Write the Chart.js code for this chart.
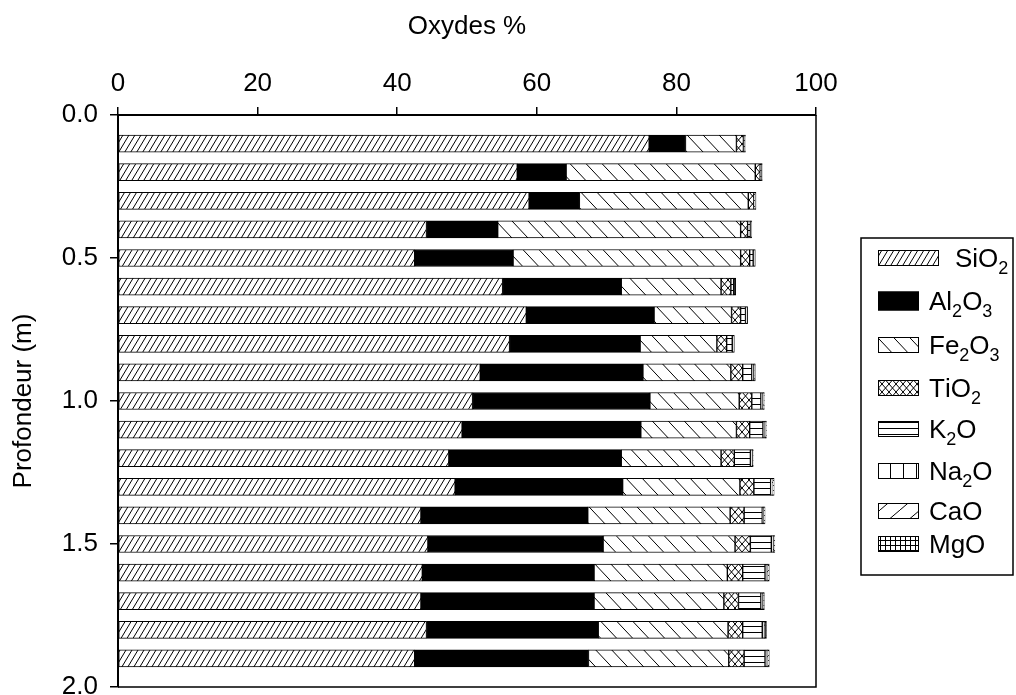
<!DOCTYPE html>
<html>
<head>
<meta charset="utf-8">
<script src="https://cdn.jsdelivr.net/npm/chart.js@4/dist/chart.umd.min.js"></script>
<style>
  html, body { margin: 0; padding: 0; background: #fff; }
  #wrap { width: 1016px; height: 695px; position: relative; }
</style>
</head>
<body>
<div id="wrap"><canvas id="oxChart"></canvas></div>
<script>
// profondeur (m)
const depths = [0.1, 0.2, 0.3, 0.4, 0.5, 0.6, 0.7, 0.8, 0.9, 1.0, 1.1, 1.2, 1.3, 1.4, 1.5, 1.6, 1.7, 1.8, 1.9];

// oxydes %
const sio2  = [76.1, 57.2, 58.9, 44.2, 42.5, 55.1, 58.5, 56.1, 51.9, 50.8, 49.3, 47.4, 48.3, 43.4, 44.4, 43.6, 43.4, 44.2, 42.5];
const al2o3 = [5.2, 7.0, 7.2, 10.2, 14.1, 17.0, 18.3, 18.7, 23.3, 25.4, 25.6, 24.7, 24.0, 23.9, 25.1, 24.6, 24.8, 24.6, 24.9];
const fe2o3 = [7.3, 27.1, 24.2, 34.8, 32.6, 14.3, 11.1, 11.0, 12.6, 12.8, 13.7, 14.3, 16.8, 20.4, 18.9, 19.1, 18.6, 18.6, 20.1];
const tio2  = [1.0, 0.7, 0.8, 1.0, 1.3, 1.4, 1.3, 1.4, 1.7, 1.8, 1.9, 1.9, 2.0, 2.0, 2.2, 2.2, 2.1, 2.1, 2.2];
const k2o   = [0.2, 0.2, 0.2, 0.4, 0.5, 0.4, 0.7, 0.8, 1.3, 1.3, 1.9, 2.3, 2.4, 2.6, 3.0, 3.2, 3.2, 2.8, 3.0];
const na2o  = [0.1, 0.1, 0.1, 0.2, 0.3, 0.3, 0.3, 0.3, 0.3, 0.3, 0.3, 0.3, 0.2, 0.2, 0.3, 0.3, 0.3, 0.3, 0.3];
const cao   = [0.0, 0.0, 0.0, 0.0, 0.0, 0.0, 0.0, 0.0, 0.1, 0.1, 0.1, 0.05, 0.1, 0.05, 0.05, 0.1, 0.05, 0.1, 0.1];
const mgo   = [0.0, 0.0, 0.0, 0.0, 0.0, 0.0, 0.0, 0.0, 0.1, 0.1, 0.1, 0.05, 0.2, 0.15, 0.15, 0.2, 0.15, 0.2, 0.2];

const FONT = "'Liberation Sans', Arial, sans-serif";

function makePattern(w, h, draw) {
    const c = document.createElement('canvas');
    c.width = w; c.height = h;
    const g = c.getContext('2d');
    g.fillStyle = '#fff';
    g.fillRect(0, 0, w, h);
    g.strokeStyle = '#000';
    g.lineWidth = 1;
    g.beginPath();
    draw(g, w, h);
    g.stroke();
    return g.createPattern(c, 'repeat');
}
function slash(g, w, h) {
    for (let k = -1; k <= 1; k++) { g.moveTo(k * w, h); g.lineTo(k * w + w, 0); }
}
function backslash(g, w, h) {
    for (let k = -1; k <= 1; k++) { g.moveTo(k * w, 0); g.lineTo(k * w + w, h); }
}

const fills = {
    sio2: makePattern(6, 10, slash),
    al2o3: '#000',
    fe2o3: makePattern(16, 17, backslash),
    tio2: makePattern(7, 8, (g, w, h) => { slash(g, w, h); backslash(g, w, h); }),
    k2o: makePattern(4, 6, (g, w, h) => { g.moveTo(0, 2.5); g.lineTo(w, 2.5); }),
    na2o: makePattern(13, 4, (g, w, h) => { g.moveTo(6.5, 0); g.lineTo(6.5, h); }),
    cao: makePattern(20, 17, slash),
    mgo: makePattern(5, 5, (g, w, h) => { g.moveTo(0.5, 0); g.lineTo(0.5, h); g.moveTo(0, 0.5); g.lineTo(w, 0.5); })
};

const series = [
    ['SiO2', sio2, fills.sio2],
    ['Al2O3', al2o3, fills.al2o3],
    ['Fe2O3', fe2o3, fills.fe2o3],
    ['TiO2', tio2, fills.tio2],
    ['K2O', k2o, fills.k2o],
    ['Na2O', na2o, fills.na2o],
    ['CaO', cao, fills.cao],
    ['MgO', mgo, fills.mgo]
];

// draws a formula with its digits as subscripts
function drawFormula(ctx, text, x, y) {
    ctx.textBaseline = 'alphabetic';
    ctx.textAlign = 'left';
    for (const ch of text) {
        if (/[0-9]/.test(ch)) {
            ctx.font = '18px ' + FONT;
            ctx.fillText(ch, x, y + 7);
        } else {
            ctx.font = '26px ' + FONT;
            ctx.fillText(ch, x, y);
        }
        x += ctx.measureText(ch).width;
    }
}

const frameAndLegend = {
    id: 'frameAndLegend',
    afterDraw(chart) {
        const ctx = chart.ctx;
        const a = chart.chartArea;
        ctx.save();
        ctx.strokeStyle = '#000';
        ctx.lineWidth = 1.5;
        ctx.beginPath();
        ctx.moveTo(a.right, a.top);
        ctx.lineTo(a.right, a.bottom);
        ctx.lineTo(a.left, a.bottom);
        ctx.stroke();

        // legend box
        ctx.lineWidth = 1.5;
        ctx.strokeRect(861, 238, 152, 337);
        const ys = [258, 301, 345, 388, 429, 471, 511, 544];
        series.forEach((s, i) => {
            const w = i === 0 ? 61 : 41;
            const h = i === 1 ? 19 : 16;
            ctx.fillStyle = s[2];
            ctx.fillRect(878, ys[i] - h / 2, w, h);
            ctx.lineWidth = 1;
            ctx.strokeRect(878.5, ys[i] - h / 2 + 0.5, w - 1, h - 1);
            ctx.fillStyle = '#000';
            drawFormula(ctx, s[0], i === 0 ? 955 : 929, ys[i] + 9);
        });
        ctx.restore();
    }
};

new Chart(document.getElementById('oxChart'), {
    type: 'bar',
    data: {
        datasets: series.map(s => ({
            label: s[0],
            data: depths.map((d, i) => ({ x: s[1][i], y: d })),
            backgroundColor: s[2],
            borderColor: '#000',
            borderWidth: 1,
            borderSkipped: false,
            barThickness: 17
        }))
    },
    options: {
        indexAxis: 'y',
        responsive: true,
        maintainAspectRatio: false,
        animation: false,
        layout: { padding: { top: 0, left: 0, right: 200, bottom: 8 } },
        plugins: { legend: { display: false }, tooltip: { enabled: false } },
        scales: {
            x: {
                type: 'linear',
                position: 'top',
                min: 0,
                max: 100,
                stacked: true,
                ticks: { stepSize: 20, color: '#000', font: { family: FONT, size: 26 }, padding: 8 },
                grid: { drawOnChartArea: false, drawTicks: true, tickLength: 8, color: '#000', lineWidth: 1.5 },
                border: { color: '#000', width: 2 },
                title: { display: true, text: 'Oxydes %', color: '#000', font: { family: FONT, size: 26 }, padding: { top: 11, bottom: 0 } },
                afterFit(scale) { scale.height = 115; scale.paddingLeft = 0; scale.paddingRight = 0; }
            },
            y: {
                type: 'linear',
                reverse: true,
                min: 0,
                max: 2,
                offset: false,
                stacked: true,
                ticks: { stepSize: 0.5, color: '#000', font: { family: FONT, size: 26 }, padding: 12, callback: v => v.toFixed(1) },
                grid: { offset: false, drawOnChartArea: false, drawTicks: true, tickLength: 8, color: '#000', lineWidth: 1.5 },
                border: { color: '#000', width: 2 },
                title: { display: true, text: 'Profondeur (m)', color: '#000', font: { family: FONT, size: 26 }, padding: { top: 8, bottom: 0 } },
                afterFit(scale) { scale.width = 118; scale.paddingTop = 0; scale.paddingBottom = 0; }
            }
        }
    },
    plugins: [frameAndLegend]
});
</script>
</body>
</html>
